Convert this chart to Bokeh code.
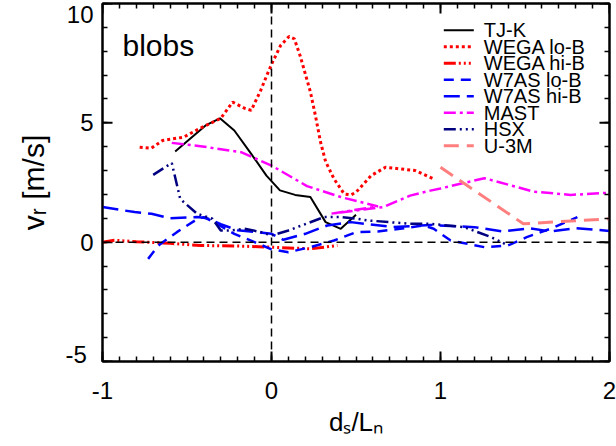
import math
from bokeh.plotting import figure
from bokeh.models import Range1d, LinearAxis, FixedTicker, Span, Label
from bokeh.embed import file_html
from bokeh.resources import INLINE

# Radial blob velocity versus normalised drift parameter, per device
tjk_x = [-0.57, -0.39, -0.305, -0.22, -0.12, -0.03, 0.05, 0.14, 0.23, 0.32, 0.41, 0.50]
tjk_y = [3.80, 4.89, 5.19, 4.68, 3.70, 2.79, 2.17, 1.98, 1.89, 0.84, 0.56, 1.15]

wega_lo_x = [-0.78, -0.71, -0.645, -0.52, -0.42, -0.30, -0.23, -0.16, -0.12, -0.064,
             -0.024, 0.006, 0.054, 0.104, 0.135, 0.17, 0.20, 0.23, 0.26, 0.29, 0.32,
             0.37, 0.43, 0.47, 0.50, 0.59, 0.675, 0.76, 0.85, 0.96]
wega_lo_y = [3.98, 3.94, 4.26, 4.40, 4.78, 5.19, 5.87, 5.61, 5.52, 6.36,
             7.05, 7.54, 8.24, 8.62, 8.52, 7.80, 7.05, 6.30, 5.30, 4.20, 3.38,
             2.65, 2.02, 1.98, 2.09, 2.79, 3.14, 3.07, 3.00, 2.65]

wega_hi_x = [-1.0, -0.93, -0.8, -0.6, -0.42, -0.2, 0.0, 0.23, 0.39]
wega_hi_y = [0.0, 0.08, 0.02, -0.05, -0.14, -0.16, -0.21, -0.28, -0.14]

w7as_lo_x = [-0.73, -0.67, -0.56, -0.45, -0.40, -0.33, -0.22, -0.10, 0.0, 0.10, 0.23,
             0.37, 0.50, 0.63, 0.76, 0.90, 0.96, 1.06, 1.26, 1.40, 1.51, 1.65, 1.81]
w7as_lo_y = [-0.70, -0.14, 0.42, 0.92, 1.05, 0.80, 0.35, 0.0, -0.30, -0.42, -0.21,
             0.07, 0.42, 0.45, 0.56, 0.70, 0.56, 0.07, -0.21, -0.14, 0.21, 0.56, 1.05]

w7as_hi_x = [-1.0, -0.81, -0.71, -0.60, -0.44, -0.38, -0.30, -0.20, -0.08, 0.0, 0.07,
             0.20, 0.33, 0.47, 0.72, 0.94, 1.20, 1.37, 1.53, 1.65, 1.80, 2.0]
w7as_hi_y = [1.47, 1.26, 1.19, 1.0, 1.05, 1.0, 0.75, 0.50, 0.42, 0.35, 0.10,
             0.35, 0.70, 0.84, 0.63, 0.72, 0.63, 0.45, 0.58, 0.45, 0.59, 0.47]

mast_x = [-0.59, -0.42, -0.18, 0.0, 0.21, 0.41, 0.63, 0.35, 0.66, 0.82, 0.94, 1.0,
          1.26, 1.55, 1.77, 2.0]
mast_y = [4.16, 4.02, 3.77, 3.21, 2.35, 1.89, 1.50, 1.19, 1.47, 1.95, 2.16, 2.25,
          2.68, 2.12, 1.98, 2.07]

hsx_x = [-0.70, -0.59, -0.54, -0.44, -0.35, -0.30, -0.24, -0.16, -0.06, 0.0, 0.10,
         0.31, 0.41, 0.51, 0.57, 0.82, 0.94, 1.14, 1.30, 1.40]
hsx_y = [2.82, 3.32, 1.81, 1.19, 0.98, 0.49, 0.49, 0.56, 0.42, 0.28, 0.49,
         1.05, 1.05, 0.98, 0.91, 0.77, 0.77, 0.63, 0.21, -0.14]

u3m_x = [1.0, 1.49, 2.0]
u3m_y = [3.14, 0.77, 0.98]

series_names = ["TJ-K", "WEGA lo-B", "WEGA hi-B", "W7AS lo-B", "W7AS hi-B",
                "MAST", "HSX", "U-3M"]
series_x = [tjk_x, wega_lo_x, wega_hi_x, w7as_lo_x, w7as_hi_x, mast_x, hsx_x, u3m_x]
series_y = [tjk_y, wega_lo_y, wega_hi_y, w7as_lo_y, w7as_hi_y, mast_y, hsx_y, u3m_y]

x_major = [-1, 0, 1, 2]
y_major = [-5, 0, 5, 10]
x_minor = [round(-1 + 0.1 * i, 2) for i in range(31)]
y_minor = list(range(-5, 11))

# line styles per series: colour, width, dash
STYLES = [
    ("black", 2.0, "solid"),
    ("#ff0000", 3.0, "3 3"),
    ("#ff0000", 3.0, "12 3 2 3 2 3 2 3"),
    ("#0000ff", 2.5, "10 7"),
    ("#0000ff", 2.5, "16 7"),
    ("#ff00ff", 2.5, "12 4 3 4"),
    ("#000080", 2.5, "12 4 2 4 2 4 2 4"),
    ("#ff7f7f", 3.0, "15 8"),
]

FONT = "Liberation Sans"
FW, FH = 507, 358

p = figure(frame_width=FW, frame_height=FH, output_backend="svg",
           toolbar_location=None,
           x_range=Range1d(-1, 2), y_range=Range1d(-5, 10),
           x_axis_label="dₛ/Lₙ", y_axis_label="vᵣ [m/s]",
           min_border_left=102, min_border_right=7, min_border_top=3,
           min_border_bottom=85)
p.xgrid.visible = False
p.ygrid.visible = False
p.outline_line_color = "black"
p.outline_line_width = 2
p.background_fill_color = "white"
p.border_fill_color = "white"

# pixel-based ranges for the in-frame key
p.extra_x_ranges = {"key_x": Range1d(0, FW)}
p.extra_y_ranges = {"key_y": Range1d(FH, 0)}


def style_axis(ax):
    ax.axis_line_width = 2
    ax.axis_line_color = "black"
    ax.major_tick_out = 0
    ax.minor_tick_in = 5
    ax.minor_tick_out = 0
    ax.major_tick_line_width = 2
    ax.minor_tick_line_width = 1.5
    ax.major_label_text_font = FONT
    ax.major_label_text_font_size = "24px"
    ax.major_label_text_color = "black"
    ax.axis_label_text_font = FONT
    ax.axis_label_text_font_style = "normal"
    ax.axis_label_text_color = "black"


xa = p.xaxis[0]
style_axis(xa)
xa.ticker = FixedTicker(ticks=x_major, minor_ticks=x_minor)
xa.major_label_overrides = {t: str(t) for t in x_major}
xa.major_tick_in = 10
xa.major_label_standoff = 20
xa.axis_label_standoff = 5
xa.axis_label_text_font_size = "26px"

# the end labels of the y axis are pulled inside the frame span, so the
# left axis carries label positions while its major ticks are drawn below
y_label_pos = [-4.69, 0, 5, 9.55]
y_label_txt = ["-5\u00a0", "0", "5", "10"]
ya = p.yaxis[0]
style_axis(ya)
ya.ticker = FixedTicker(ticks=y_label_pos, minor_ticks=y_minor)
ya.major_label_overrides = dict(zip(y_label_pos, y_label_txt))
ya.major_tick_in = 0
ya.major_label_standoff = 9
ya.axis_label_standoff = 12
ya.axis_label_text_font_size = "30px"

# mirrored tick marks on the top and right edges
top = LinearAxis(ticker=FixedTicker(ticks=[], minor_ticks=x_minor),
                 axis_line_width=2, minor_tick_in=5, minor_tick_out=0,
                 minor_tick_line_width=1.5, major_label_standoff=0)
p.add_layout(top, "above")
right = LinearAxis(ticker=FixedTicker(ticks=[], minor_ticks=y_minor),
                   axis_line_width=2, minor_tick_in=5, minor_tick_out=0,
                   minor_tick_line_width=1.5, major_label_standoff=0)
p.add_layout(right, "right")

# major ticks on top, right and left edges (half of each dash lies in the frame)
p.scatter(x_major, [10] * len(x_major), marker="dash", size=20,
          angle=math.pi / 2, line_color="black", line_width=2)
p.scatter([2] * len(y_major), y_major, marker="dash", size=20,
          line_color="black", line_width=2)
p.scatter([-1] * len(y_major), y_major, marker="dash", size=20,
          line_color="black", line_width=2)

# zero reference lines
p.add_layout(Span(location=0, dimension="width", line_color="black",
                  line_width=1.5, line_dash="8 5"))
p.add_layout(Span(location=0, dimension="height", line_color="black",
                  line_width=1.5, line_dash="8 5"))

for xs, ys, (color, lw, dash) in zip(series_x, series_y, STYLES):
    p.line(xs, ys, line_color=color, line_width=lw, line_dash=dash)

# key: sample lines and names, in frame pixels from the top-left corner
KEY_X0, KEY_X1, KEY_TX = 341.3, 371.3, 381.3
KEY_Y0, KEY_DY = 26.8, 16.5
for i, (name, (color, lw, dash)) in enumerate(zip(series_names, STYLES)):
    ky = KEY_Y0 + KEY_DY * i
    p.line([KEY_X0, KEY_X1], [ky, ky], line_color=color, line_width=lw,
           line_dash=dash, x_range_name="key_x", y_range_name="key_y")
    p.add_layout(Label(x=KEY_TX, y=ky, text=name, text_font=FONT,
                       text_font_size="20px", text_color="black",
                       text_baseline="middle",
                       x_range_name="key_x", y_range_name="key_y"))

p.add_layout(Label(x=-0.882, y=8.25, text="blobs", text_font=FONT,
                   text_font_size="30px", text_color="black",
                   text_baseline="alphabetic"))

open("out.html", "w").write(file_html(p, INLINE))
